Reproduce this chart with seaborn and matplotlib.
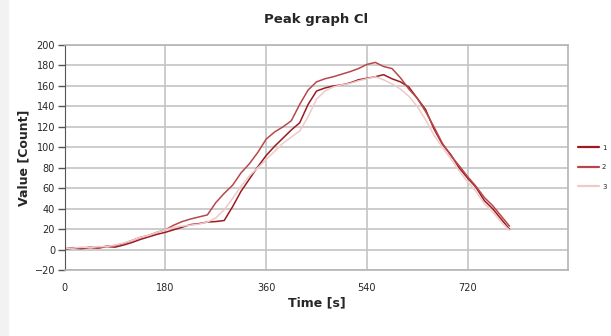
import matplotlib
matplotlib.use("Agg")
import matplotlib.pyplot as plt
import seaborn as sns
import pandas as pd
from matplotlib.patches import Rectangle

# time axis (s), shared by all three runs
time_s = [0, 15, 30, 45, 60, 75, 90, 105, 120, 135, 150, 165, 180, 195, 210, 225,
          240, 255, 270, 285, 300, 315, 330, 345, 360, 375, 390, 405, 420, 435,
          450, 465, 480, 495, 510, 525, 540, 555, 570, 585, 600, 615, 630, 645,
          660, 675, 690, 705, 720, 735, 750, 765, 780, 795]

run_1 = [0.5, 1.5, 1, 2, 1.5, 3, 2.5, 4.5, 7, 10, 12.5, 15, 17, 19.5, 22, 24.5,
         25.5, 27, 27.5, 28.5, 42, 57, 69, 81, 92, 101, 109, 117, 124, 142,
         155, 158, 160, 161, 163, 166, 167.5, 169, 171, 167, 164, 159, 148, 137,
         118, 103, 93, 80, 70, 61, 48, 40, 30, 20]

run_2 = [1, 2, 1.5, 2.5, 2, 3.5, 4, 6, 9, 12, 14, 17, 19.5, 24, 27.5, 30,
         32, 34, 46, 55, 63, 75, 84, 95, 108, 115, 120, 126, 142, 156,
         164, 167, 169, 171.5, 174, 177, 181, 183, 179, 177, 168, 157, 148, 135,
         120, 104, 92, 82, 71.5, 62, 51, 43, 33, 23]

run_3 = [1, 1.5, 2.5, 2, 3, 3, 4.5, 6.5, 9, 12, 14, 17, 19.5, 22, 23, 24,
         25, 27, 31, 39, 50, 62, 72, 80, 88, 96, 104, 110, 116, 130,
         147, 155, 159, 161, 162.5, 165, 167, 169, 166, 162, 157, 150, 140, 127,
         112, 100, 89, 77, 66.5, 57, 45, 37, 27, 19]

labels = ["1", "2", "3"]
colors = ["#9b1b20", "#b8474b", "#f0c9c9"]

df = pd.concat([
    pd.DataFrame({"time": time_s, "value": vals, "run": lab})
    for lab, vals in zip(labels, [run_1, run_2, run_3])
])

sns.set_style("white")
plt.rcParams["font.family"] = ["DejaVu Sans"]

fig = plt.figure(figsize=(6.11, 3.36), dpi=100)
fig.patches.append(Rectangle((0, 0), 8 / 611, 1, transform=fig.transFigure,
                             color="#f2f2f2", zorder=0))
ax = fig.add_axes([0.106, 0.196, 0.824, 0.670])

sns.lineplot(data=df, x="time", y="value", hue="run", palette=colors,
             linewidth=1.1, ax=ax, legend=False, estimator=None, sort=False)

ax.set_xlim(0, 900)
ax.set_ylim(-20, 200)
ax.set_xticks([0, 180, 360, 540, 720])
ax.set_yticks(range(-20, 201, 20))
ax.grid(True, color="#c4c4c4", linewidth=1.2)
ax.set_axisbelow(True)
for side in ["top", "right", "bottom"]:
    ax.spines[side].set_color("#b4b4b4")
    ax.spines[side].set_linewidth(1.2)
ax.spines["left"].set_color("#555555")
ax.tick_params(axis="y", left=True, length=5, width=1, color="#555555",
               labelsize=7, pad=2)
ax.tick_params(axis="x", bottom=False, labelsize=7, pad=6)

ax.set_xlabel("Time [s]", fontsize=9, fontweight="bold", labelpad=2)
ax.set_ylabel("Value [Count]", fontsize=9, fontweight="bold", labelpad=3)
ax.set_title("Peak graph Cl", fontsize=9.5, fontweight="bold", pad=16)

# legend hugs the right edge of the canvas
handles = [plt.Line2D([], [], color=c, linewidth=1.6) for c in colors]
fig.legend(handles, labels, loc="upper left", bbox_to_anchor=(0.942, 0.578),
           frameon=False, fontsize=5, handlelength=3.0, handletextpad=0.4,
           labelspacing=1.95, borderaxespad=0)

fig.savefig("out.png", dpi=100)
